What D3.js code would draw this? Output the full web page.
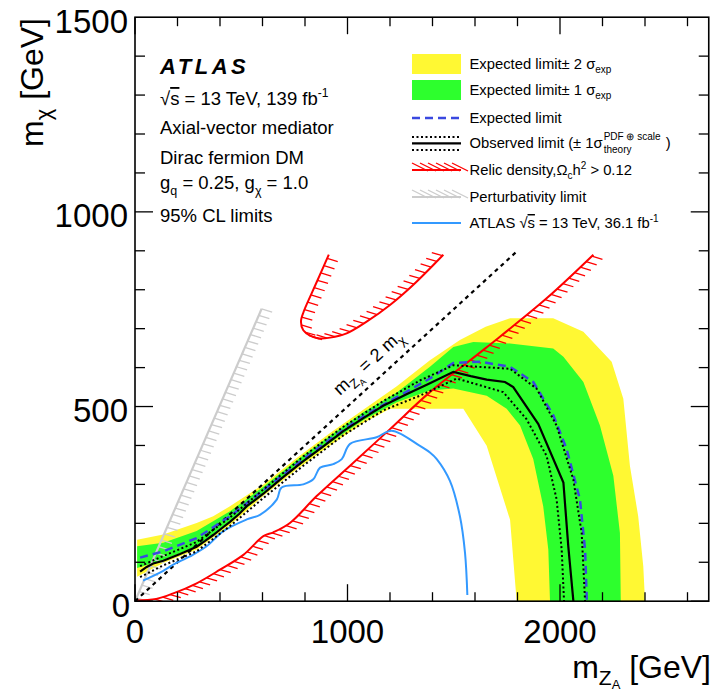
<!DOCTYPE html>
<html>
<head>
<meta charset="utf-8">
<script src="https://cdn.jsdelivr.net/npm/d3@7"></script>
<style>
  body { margin: 0; background: #fff; }
  svg { font-family: "Liberation Sans", Arial, Helvetica, sans-serif; }
</style>
</head>
<body>
<div id="chart"></div>
<script>
// values, [m_ZA, m_chi] in GeV
const yellowOuter = [[10,158],[133,171],[290,201],[368,218],[447,244],[604,300],[761,368],[918,432],[1074,492],[1232,552],[1388,619],[1529,671],[1650,705],[1765,727],[1968,727],[2110,692],[2243,615],[2298,520],[2329,348],[2368,218],[2392,89],[2400,0]];
const yellowInner = [[10,63],[133,98],[290,132],[447,195],[604,270],[761,338],[918,400],[1074,458],[1200,494],[1388,494],[1545,494],[1655,399],[1765,209],[1796,0]];
const greenOuter = [[10,141],[133,150],[290,180],[447,231],[604,294],[761,362],[918,425],[1074,485],[1232,536],[1388,602],[1498,653],[1592,666],[1765,662],[1968,649],[2016,628],[2110,563],[2188,451],[2251,322],[2282,175],[2286,0]];
const greenInner = [[10,85],[133,106],[290,141],[447,203],[604,276],[761,344],[918,407],[1074,465],[1232,511],[1388,541],[1498,546],[1655,528],[1749,494],[1812,451],[1874,365],[1921,244],[1945,132],[1953,0]];
const expected = [[24,112],[133,128],[290,162],[447,218],[604,285],[761,352],[918,416],[1074,475],[1232,524],[1388,572],[1498,612],[1624,615],[1765,602],[1874,563],[1969,477],[2031,391],[2094,261],[2118,132],[2125,21],[2126,0]];
const observed = [[24,76],[55,88],[86,97],[133,104],[180,114],[212,121],[250,130],[290,140],[330,155],[368,170],[410,188],[447,204],[490,224],[526,244],[604,276],[700,320],[792,360],[880,395],[980,437],[1080,472],[1168,502],[1280,532],[1388,560],[1498,589],[1580,578],[1655,569],[1741,563],[1780,550],[1898,455],[2016,305],[2039,141],[2063,0]];
const observedUp = [[24,90],[133,116],[290,152],[447,215],[604,287],[792,372],[980,448],[1168,514],[1341,567],[1498,606],[1765,597],[1890,546],[1984,451],[2063,312],[2102,175],[2118,0]];
const observedDown = [[24,62],[133,92],[290,128],[447,193],[604,265],[792,348],[980,426],[1168,490],[1341,528],[1514,572],[1733,537],[1842,468],[1937,373],[1984,262],[2008,132],[2019,0]];
const atlas36 = [[38,53],[133,78],[180,94],[259,115],[337,141],[416,180],[526,210],[588,222],[667,261],[690,292],[792,300],[839,313],[871,343],[933,352],[973,365],[1012,404],[1137,421],[1208,438],[1341,399],[1388,382],[1420,365],[1482,309],[1529,218],[1553,124],[1564,16]];
const relicLow = [[0,2],[100,6],[180,20],[290,46],[400,81],[510,119],[604,167],[651,177],[729,201],[855,270],[1012,348],[1200,442],[1388,537],[1650,650],[1937,778],[2157,890]];
const relicU = [[912,890],[870,838],[828,787],[794,744],[781,718],[792,696],[824,682],[863,675],[918,677],[996,688],[1090,718],[1200,761],[1310,813],[1451,890]];
const perturb = [[0,0],[596,751]];
const diagonal = [[0,0],[1800,900]];

const xTicksMajor = [0, 1000, 2000];
const xTicksMinor = d3.range(0, 2700, 200);
const yTicksMajor = [0, 500, 1000, 1500];
const yTicksMinor = d3.range(0, 1500, 100);

const width = 714, height = 692;
const x = d3.scaleLinear().domain([0, 2700]).range([135, 708.75]);
const y = d3.scaleLinear().domain([0, 1500]).range([601.2, 17.2]);

const svg = d3.select("#chart").append("svg")
    .attr("width", width)
    .attr("height", height);

svg.append("clipPath").attr("id", "plotclip")
    .append("rect")
    .attr("x", x(0)).attr("y", y(1500))
    .attr("width", x(2700) - x(0)).attr("height", y(0) - y(1500));

const plot = svg.append("g").attr("clip-path", "url(#plotclip)");

const line = d3.line().x(d => x(d[0])).y(d => y(d[1]));
const smooth = d3.line().x(d => x(d[0])).y(d => y(d[1])).curve(d3.curveCatmullRom);

function band(outer, inner) {
    return line(outer.concat(inner.slice().reverse())) + "Z";
}

plot.append("path").attr("d", band(yellowOuter, yellowInner)).attr("fill", "#fff833");
plot.append("path").attr("d", band(greenOuter, greenInner)).attr("fill", "#2dff2d");

// hatched exclusion lines, hatches all parallel, on one side of the curve
function hatched(g, node, side, step, len, color) {
    const total = node.getTotalLength();
    const n0 = Math.hypot(1, 0.3);
    for (let s = step / 2; s < total; s += step) {
        const p = node.getPointAtLength(s);
        const a = node.getPointAtLength(Math.max(0, s - 1));
        const b = node.getPointAtLength(Math.min(total, s + 1));
        const dx = b.x - a.x, dy = b.y - a.y;
        const nx = side * dy, ny = -side * dx;
        let hx = 1 / n0, hy = 0.3 / n0;
        if (hx * nx + hy * ny < 0) { hx = -hx; hy = -hy; }
        g.append("line")
            .attr("x1", p.x).attr("y1", p.y)
            .attr("x2", p.x + len * hx).attr("y2", p.y + len * hy)
            .attr("stroke", color).attr("stroke-width", 1.3);
    }
}

const gray = plot.append("path").attr("d", line(perturb))
    .attr("fill", "none").attr("stroke", "#cccccc").attr("stroke-width", 2.2);
hatched(plot, gray.node(), -1, 7, 11, "#cccccc");

const relic1 = plot.append("path").attr("d", smooth(relicLow))
    .attr("fill", "none").attr("stroke", "#ff0000").attr("stroke-width", 2);
hatched(plot, relic1.node(), -1, 8, 11, "#ff0000");

const relic2 = plot.append("path").attr("d", smooth(relicU))
    .attr("fill", "none").attr("stroke", "#ff0000").attr("stroke-width", 2);
hatched(plot, relic2.node(), 1, 8, 11, "#ff0000");

plot.append("path").attr("d", line(diagonal))
    .attr("fill", "none").attr("stroke", "#000").attr("stroke-width", 2.2)
    .attr("stroke-dasharray", "4,4");

plot.append("path").attr("d", smooth(atlas36))
    .attr("fill", "none").attr("stroke", "#3399ff").attr("stroke-width", 2);

plot.append("path").attr("d", line(expected))
    .attr("fill", "none").attr("stroke", "#3a48e0").attr("stroke-width", 2.5)
    .attr("stroke-dasharray", "8,5");

[observedUp, observedDown].forEach(s => {
    plot.append("path").attr("d", line(s))
        .attr("fill", "none").attr("stroke", "#000").attr("stroke-width", 2)
        .attr("stroke-dasharray", "2,2.5");
});
plot.append("path").attr("d", line(observed))
    .attr("fill", "none").attr("stroke", "#000").attr("stroke-width", 2.2);

// m_ZA = 2 m_chi label along the diagonal
const diagLabel = svg.append("text")
    .attr("transform", "translate(" + x(965) + "," + y(527) + ") rotate(-42.3)")
    .attr("font-size", 18);
diagLabel.append("tspan").text("m");
diagLabel.append("tspan").attr("font-size", 13).attr("dy", 5).text("Z");
diagLabel.append("tspan").attr("font-size", 9).attr("dy", 3).text("A");
diagLabel.append("tspan").attr("font-size", 18).attr("dy", -8).text(" = 2 m");
diagLabel.append("tspan").attr("font-size", 13).attr("dy", 5).text("χ");

// frame and ticks
svg.append("rect")
    .attr("x", x(0)).attr("y", y(1500))
    .attr("width", x(2700) - x(0)).attr("height", y(0) - y(1500))
    .attr("fill", "none").attr("stroke", "#000").attr("stroke-width", 1.6);

const ticks = svg.append("g").attr("stroke", "#000").attr("stroke-width", 1.3);
xTicksMinor.forEach(v => {
    const len = xTicksMajor.includes(v) ? 17 : 9;
    ticks.append("line").attr("x1", x(v)).attr("x2", x(v)).attr("y1", y(0)).attr("y2", y(0) - len);
    ticks.append("line").attr("x1", x(v)).attr("x2", x(v)).attr("y1", y(1500)).attr("y2", y(1500) + len);
});
yTicksMinor.forEach(v => {
    const len = yTicksMajor.includes(v) ? 18 : 10;
    ticks.append("line").attr("x1", x(0)).attr("x2", x(0) + len).attr("y1", y(v)).attr("y2", y(v));
    ticks.append("line").attr("x1", x(2700)).attr("x2", x(2700) - len).attr("y1", y(v)).attr("y2", y(v));
});

svg.append("g").selectAll("text").data(xTicksMajor).enter().append("text")
    .attr("x", d => x(d)).attr("y", 643)
    .attr("text-anchor", "middle").attr("font-size", 33)
    .text(d => d);
svg.append("g").selectAll("text").data(yTicksMajor).enter().append("text")
    .attr("x", d => d === 0 ? 130 : 128).attr("y", d => y(d) + 15.5)
    .attr("text-anchor", "end").attr("font-size", 33)
    .text(d => d);

// axis titles
const xt = svg.append("text").attr("x", 711).attr("y", 678)
    .attr("text-anchor", "end").attr("font-size", 32);
xt.append("tspan").text("m");
xt.append("tspan").attr("font-size", 21).attr("dy", 7).text("Z");
xt.append("tspan").attr("font-size", 13).attr("dy", 4).text("A");
xt.append("tspan").attr("font-size", 32).attr("dy", -11).text(" [GeV]");

const yt = svg.append("text").attr("transform", "translate(43,18) rotate(-90)")
    .attr("text-anchor", "end").attr("font-size", 32);
yt.append("tspan").text("m");
yt.append("tspan").attr("font-size", 22).attr("dy", 8).text("χ");
yt.append("tspan").attr("font-size", 32).attr("dy", -8).text(" [GeV]");

// info block
const info = svg.append("g").attr("font-size", 18.5);
info.append("text").attr("x", 160).attr("y", 74)
    .attr("font-size", 22).attr("font-weight", "bold").attr("font-style", "italic")
    .attr("letter-spacing", 3.5).text("ATLAS");
const rs = info.append("text").attr("x", 160).attr("y", 105);
rs.append("tspan").text("√");
rs.append("tspan").style("text-decoration", "overline").text("s");
rs.append("tspan").text(" = 13 TeV, 139 fb");
rs.append("tspan").attr("font-size", 12).attr("dy", -8).text("-1");
info.append("text").attr("x", 160).attr("y", 134).text("Axial-vector mediator");
info.append("text").attr("x", 160).attr("y", 164).text("Dirac fermion DM");
const gq = info.append("text").attr("x", 160).attr("y", 189);
gq.append("tspan").text("g");
gq.append("tspan").attr("font-size", 12.5).attr("dy", 6).text("q");
gq.append("tspan").attr("dy", -6).text(" = 0.25, g");
gq.append("tspan").attr("font-size", 12.5).attr("dy", 6).text("χ");
gq.append("tspan").attr("dy", -6).text(" = 1.0");
info.append("text").attr("x", 160).attr("y", 221.5).text("95% CL limits");

// legend
const lg = svg.append("g");
const lx0 = 412, lx1 = 461, tx = 469.5;
const rowY = [64, 90, 118, 143.4, 170, 197, 223];
lg.append("rect").attr("x", lx0).attr("y", rowY[0] - 10).attr("width", lx1 - lx0).attr("height", 20).attr("fill", "#fff833");
lg.append("rect").attr("x", lx0).attr("y", rowY[1] - 10).attr("width", lx1 - lx0).attr("height", 20).attr("fill", "#2dff2d");
lg.append("line").attr("x1", lx0).attr("x2", lx1).attr("y1", rowY[2]).attr("y2", rowY[2])
    .attr("stroke", "#3a48e0").attr("stroke-width", 2.5).attr("stroke-dasharray", "8,5");
lg.append("line").attr("x1", lx0).attr("x2", lx1).attr("y1", rowY[3]).attr("y2", rowY[3])
    .attr("stroke", "#000").attr("stroke-width", 2.2);
[-6.5, 6.5].forEach(o => {
    lg.append("line").attr("x1", lx0).attr("x2", lx1).attr("y1", rowY[3] + o).attr("y2", rowY[3] + o)
        .attr("stroke", "#000").attr("stroke-width", 2).attr("stroke-dasharray", "2,2.5");
});
[[rowY[4], "#ff0000"], [rowY[5], "#cccccc"]].forEach(([yy, c]) => {
    lg.append("line").attr("x1", lx0).attr("x2", lx1).attr("y1", yy).attr("y2", yy)
        .attr("stroke", c).attr("stroke-width", 2);
    for (let hx = lx0; hx < lx1 - 8; hx += 8) {
        lg.append("line").attr("x1", hx).attr("y1", yy - 7).attr("x2", hx + 16).attr("y2", yy + 1)
            .attr("stroke", c).attr("stroke-width", 1.3);
    }
});
lg.append("line").attr("x1", lx0).attr("x2", lx1).attr("y1", rowY[6]).attr("y2", rowY[6])
    .attr("stroke", "#3399ff").attr("stroke-width", 2);

const lt = lg.append("g").attr("font-size", 14.8);
const t0 = lt.append("text").attr("x", tx).attr("y", rowY[0] + 5);
t0.append("tspan").text("Expected limit± 2 σ");
t0.append("tspan").attr("font-size", 10).attr("dy", 4).text("exp");
const t1 = lt.append("text").attr("x", tx).attr("y", rowY[1] + 5);
t1.append("tspan").text("Expected limit± 1 σ");
t1.append("tspan").attr("font-size", 10).attr("dy", 4).text("exp");
lt.append("text").attr("x", tx).attr("y", rowY[2] + 5).text("Expected limit");
const t3 = lt.append("text").attr("x", tx).attr("y", rowY[3] + 5).text("Observed limit (± 1σ");
const w3 = t3.node().getComputedTextLength();
lt.append("text").attr("x", tx + w3 + 1).attr("y", rowY[3] - 3).attr("font-size", 10).text("PDF ⊕ scale");
lt.append("text").attr("x", tx + w3 + 1).attr("y", rowY[3] + 10).attr("font-size", 10).text("theory");
lt.append("text").attr("x", tx + w3 + 63).attr("y", rowY[3] + 5).text(")");
const t4 = lt.append("text").attr("x", tx).attr("y", rowY[4] + 5);
t4.append("tspan").text("Relic density,Ω");
t4.append("tspan").attr("font-size", 10).attr("dy", 4).text("c");
t4.append("tspan").attr("dy", -4).text("h");
t4.append("tspan").attr("font-size", 10).attr("dy", -6).text("2");
t4.append("tspan").attr("dy", 6).text(" > 0.12");
lt.append("text").attr("x", tx).attr("y", rowY[5] + 5).text("Perturbativity limit");
const t6 = lt.append("text").attr("x", tx).attr("y", rowY[6] + 5);
t6.append("tspan").text("ATLAS √");
t6.append("tspan").style("text-decoration", "overline").text("s");
t6.append("tspan").text(" = 13 TeV, 36.1 fb");
t6.append("tspan").attr("font-size", 10).attr("dy", -6).text("-1");
</script>
</body>
</html>
